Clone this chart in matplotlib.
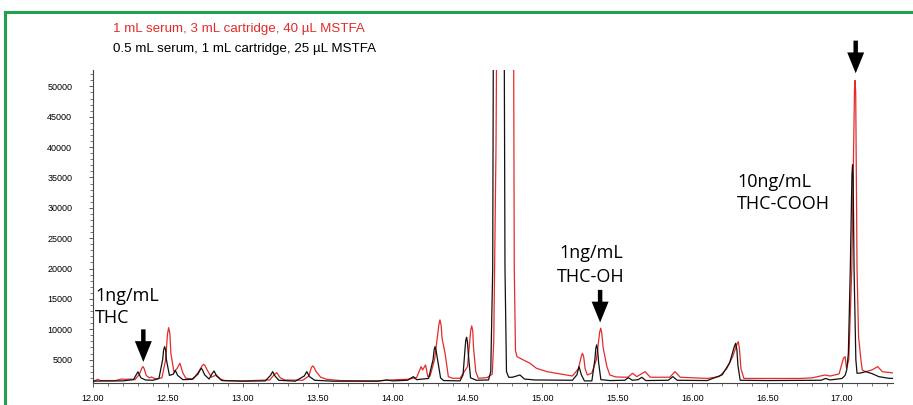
import numpy as np
import matplotlib
matplotlib.use('Agg')
import matplotlib.pyplot as plt
from matplotlib.ticker import MultipleLocator, FixedLocator
from matplotlib.lines import Line2D

# retention time (min) / abundance
# black trace: 0.5 mL serum, 1 mL cartridge, 25 uL MSTFA
t_black = [12.00, 12.05, 12.20, 12.27, 12.30, 12.32, 12.35, 12.40, 12.44, 12.465,
           12.471, 12.478, 12.485, 12.49, 12.51, 12.535, 12.55, 12.565, 12.60, 12.66,
           12.70, 12.715, 12.723, 12.731, 12.745, 12.775, 12.795, 12.808, 12.825, 12.86,
           13.00, 13.15, 13.185, 13.199, 13.215, 13.24, 13.35, 13.41, 13.427, 13.445,
           13.48, 13.60, 13.90, 13.96, 14.00, 14.10, 14.138, 14.16, 14.24, 14.27,
           14.277, 14.283, 14.29, 14.30, 14.32, 14.34, 14.45, 14.47, 14.484, 14.489,
           14.494, 14.50, 14.505, 14.52, 14.56, 14.64, 14.655, 14.668, 14.675, 14.71,
           14.742, 14.75, 14.76, 14.775, 14.80, 14.85, 14.88, 14.95, 15.20, 15.23,
           15.244, 15.26, 15.28, 15.33, 15.35, 15.356, 15.362, 15.368, 15.375, 15.39,
           15.45, 15.55, 15.573, 15.60, 15.64, 15.663, 15.69, 15.84, 15.87, 15.90,
           16.10, 16.20, 16.25, 16.28, 16.29, 16.298, 16.305, 16.32, 16.50, 16.86,
           16.89, 16.92, 17.00, 17.02, 17.031, 17.042, 17.055, 17.066, 17.07, 17.074,
           17.08, 17.092, 17.10, 17.125, 17.157, 17.20, 17.245, 17.31, 17.34]
y_black = [1450, 1480, 1500, 1700, 3000, 2000, 1650, 1600, 1900, 5000,
           6500, 7140, 6600, 5000, 2400, 2600, 3200, 2400, 1700, 1750,
           2600, 3300, 3570, 3300, 2500, 1800, 2700, 3130, 2300, 1550,
           1450, 1500, 2400, 3020, 2300, 1600, 1450, 2300, 3020, 2200,
           1600, 1450, 1450, 1650, 1500, 1600, 2200, 1700, 1900, 5000,
           6600, 7140, 6500, 5000, 2000, 1550, 1500, 2500, 7000, 8300,
           8680, 7800, 6000, 2000, 1600, 1650, 3000, 20000, 80000, 150000,
           80000, 20000, 3020, 2090, 2100, 2470, 1800, 1650, 1600, 2500,
           3850, 2500, 1500, 1500, 5000, 6800, 7420, 6700, 4500, 1700,
           1550, 1600, 2030, 1600, 1700, 2090, 1550, 1600, 2200, 1600,
           1550, 2500, 4500, 7100, 7690, 6600, 4000, 1600, 1550, 1600,
           1900, 1650, 1900, 2400, 3300, 6040, 20000, 35500, 37090, 35000,
           20000, 5000, 2750, 2800, 3020, 2700, 2200, 1930, 1900]

# red trace: 1 mL serum, 3 mL cartridge, 40 uL MSTFA
t_red = [12.00, 12.02, 12.03, 12.05, 12.15, 12.19, 12.22, 12.25, 12.28, 12.31,
         12.326, 12.334, 12.342, 12.355, 12.375, 12.39, 12.42, 12.46, 12.485, 12.497,
         12.505, 12.513, 12.52, 12.54, 12.56, 12.58, 12.60, 12.62, 12.67, 12.71,
         12.73, 12.739, 12.748, 12.76, 12.79, 12.823, 12.85, 12.88, 13.00, 13.18,
         13.205, 13.226, 13.25, 13.28, 13.40, 13.44, 13.458, 13.467, 13.476, 13.49,
         13.52, 13.56, 13.65, 13.90, 14.03, 14.10, 14.16, 14.19, 14.20, 14.22,
         14.235, 14.25, 14.28, 14.30, 14.309, 14.316, 14.324, 14.33, 14.35, 14.372,
         14.40, 14.45, 14.50, 14.515, 14.521, 14.528, 14.535, 14.54, 14.555, 14.572,
         14.63, 14.665, 14.675, 14.69, 14.70, 14.75, 14.805, 14.812, 14.82, 14.83,
         14.873, 14.917, 14.96, 15.03, 15.16, 15.20, 15.24, 15.26, 15.267, 15.275,
         15.285, 15.30, 15.33, 15.36, 15.375, 15.382, 15.389, 15.396, 15.405, 15.43,
         15.45, 15.49, 15.57, 15.602, 15.63, 15.685, 15.72, 15.85, 15.885, 15.92,
         16.10, 16.18, 16.23, 16.27, 16.298, 16.307, 16.315, 16.325, 16.345, 16.52,
         16.72, 16.80, 16.886, 16.92, 16.98, 17.009, 17.02, 17.03, 17.045, 17.065,
         17.083, 17.087, 17.091, 17.10, 17.11, 17.126, 17.135, 17.157, 17.20, 17.237,
         17.27, 17.325, 17.34]
y_red = [1500, 1600, 1760, 1550, 1550, 1800, 1750, 1800, 1700, 2600,
         3600, 3850, 3500, 2400, 2000, 2140, 1800, 2000, 5000, 9200,
         10270, 9300, 6000, 3000, 3500, 4400, 2800, 1930, 1800, 3200,
         4050, 4230, 4000, 3400, 2100, 2470, 1800, 1550, 1500, 1650,
         2400, 2860, 2000, 1650, 1600, 2300, 3700, 3960, 3700, 3000,
         2100, 1760, 1550, 1500, 1700, 1760, 2030, 3850, 3300, 4120,
         2200, 2300, 5000, 9000, 10800, 11540, 10600, 8500, 6040, 2200,
         1930, 1930, 3850, 8000, 9800, 10550, 9700, 7000, 3000, 1930,
         2030, 2600, 8000, 40000, 80000, 150000, 80000, 20000, 6500, 5490,
         4940, 4400, 3570, 3020, 2470, 2300, 3500, 5600, 6040, 5500,
         3500, 2470, 2800, 5000, 8000, 9500, 10170, 9400, 7000, 3850,
         2470, 2140, 2100, 2750, 2200, 3020, 2100, 2100, 3020, 2100,
         1900, 2200, 3500, 5500, 7500, 7960, 6800, 3500, 1900, 1900,
         1900, 2000, 2470, 2300, 2640, 5220, 5490, 3570, 5000, 20000,
         49500, 50980, 49000, 20000, 8790, 4940, 3300, 3020, 3300, 3850,
         3000, 2860, 2800]

legend_red = '1 mL serum, 3 mL cartridge, 40 µL MSTFA'
legend_black = '0.5 mL serum, 1 mL cartridge, 25 µL MSTFA'

# arrow positions (retention time, tip height)
arrow_x = [12.336, 15.385, 17.091]
arrow_tip = [4610, 11115, 52160]

RED = '#e32b2b'

fig = plt.figure(figsize=(9.13, 4.05), dpi=100)
ax = fig.add_axes([93/913, 22/405, 800/913, 313/405])

ax.plot(t_black, y_black, color='#111111', lw=0.9, zorder=3)
ax.plot(t_red, y_red, color=RED, lw=0.9, zorder=2)

ax.set_xlim(12.0, 17.34)
ax.set_ylim(1150, 52700)

ax.xaxis.set_major_locator(MultipleLocator(0.5))
ax.xaxis.set_minor_locator(MultipleLocator(0.1))
ax.yaxis.set_major_locator(FixedLocator(np.arange(5000, 50001, 5000)))
ax.yaxis.set_minor_locator(FixedLocator(np.arange(2000, 52001, 1000)))
ax.xaxis.set_major_formatter(matplotlib.ticker.FormatStrFormatter('%.2f'))

for s in ['top', 'right']:
    ax.spines[s].set_visible(False)
for s in ['left', 'bottom']:
    ax.spines[s].set_color('#444444')
    ax.spines[s].set_linewidth(0.8)

ax.tick_params(axis='both', which='major', length=3, width=0.6, color='#444444',
               labelsize=6.5)
ax.tick_params(axis='both', which='minor', length=2, width=0.5, color='#444444')
ax.tick_params(axis='y', which='major', pad=12)
ax.tick_params(axis='x', which='major', pad=5)
for lab in ax.get_xticklabels() + ax.get_yticklabels():
    lab.set_fontfamily('Liberation Sans')

# header text
hfont = ['Liberation Sans']
fig.text(113/913, 1 - 32/405, legend_red, color=RED, fontsize=9.6,
         family=hfont, va='baseline', ha='left')
fig.text(113/913, 1 - 52/405, legend_black, color='black', fontsize=9.6,
         family=hfont, va='baseline', ha='left')

# peak labels
lfont = ['Open Sans', 'DejaVu Sans']
ax.text(12.013, 14705, '1ng/mL', fontsize=13, family=lfont, va='baseline', ha='left')
ax.text(12.013, 11080, 'THC', fontsize=13, family=lfont, va='baseline', ha='left')
ax.text(15.324, 21740, '1ng/mL', fontsize=13, family=lfont, va='baseline', ha='center')
ax.text(15.324, 17830, 'THC-OH', fontsize=13, family=lfont, va='baseline', ha='center')
ax.text(16.30, 33480, '10ng/mL', fontsize=13, family=lfont, va='baseline', ha='left')
ax.text(16.30, 29760, 'THC-COOH', fontsize=13, family=lfont, va='baseline', ha='left')

for xa, ya in zip(arrow_x, arrow_tip):
    ax.annotate('', xy=(xa, ya), xytext=(0, 23.5), textcoords='offset points',
                annotation_clip=False,
                arrowprops=dict(arrowstyle='simple,head_length=1.5,head_width=1.22,tail_width=0.32',
                                fc='black', ec='none', shrinkA=0, shrinkB=0,
                                mutation_scale=10))

# green frame of the original figure panel
green = '#22a04b'
fig.add_artist(Line2D([5/913, 5/913], [0, 1 - 12/405], color=green, lw=2.2,
                      transform=fig.transFigure))
fig.add_artist(Line2D([5/913, 1], [1 - 12/405, 1 - 12/405], color=green, lw=2.2,
                      transform=fig.transFigure))

fig.savefig('out.png', dpi=100)
